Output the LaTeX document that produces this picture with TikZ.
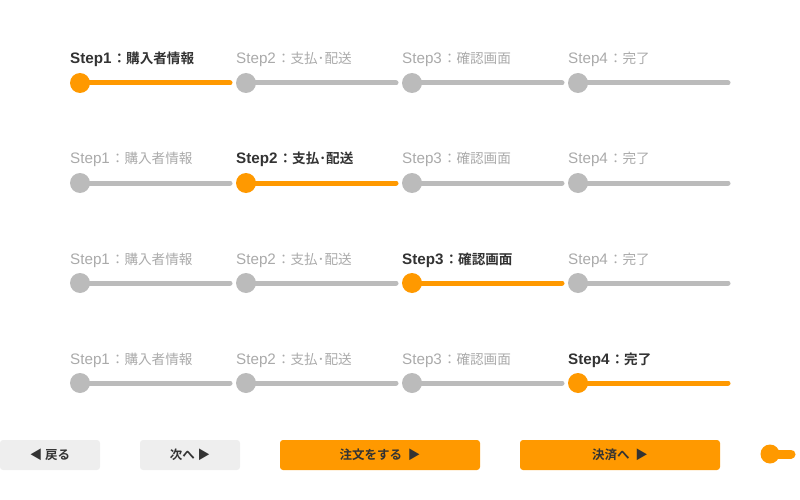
\documentclass[tikz,border=0pt]{standalone}
\usepackage{fontspec}
\setmainfont{Noto Sans CJK JP}[BoldFont={Noto Sans CJK JP Bold}]
\newfontfamily\lat{Liberation Sans}
\definecolor{org}{HTML}{FF9900}
\definecolor{lgray}{HTML}{BBBBBB}
\definecolor{tgray}{HTML}{AAAAAA}
\definecolor{dark}{HTML}{333333}
\definecolor{btngray}{HTML}{EEEEEE}
\newcommand{\steplbl}[2]{{\lat\fontsize{15.2pt}{16pt}\selectfont #1}\kern1pt{\fontsize{13.6pt}{16pt}\selectfont ：#2}}
\tikzset{
  seg/.style={line width=5pt, line cap=round},
  dot/.style={circle, minimum size=20pt, inner sep=0pt},
  lbl/.style={anchor=base west, inner sep=0pt},
  btn/.style={rounded corners=3pt, minimum height=30pt, inner sep=0pt, font=\fontsize{12.5pt}{14pt}\selectfont\bfseries, text=dark},
}
\begin{document}
\begin{tikzpicture}[x=1pt,y=-1pt]
\useasboundingbox (0,0) rectangle (800,500);
\foreach \r in {0,1,2,3}{
  \foreach \i/\a/\t in {0/Step1/購入者情報,1/Step2/支払･配送,2/Step3/確認画面,3/Step4/完了}{
    \pgfmathsetmacro{\xx}{80+166*\i}
    \pgfmathsetmacro{\yy}{83+100*\r}
    \coordinate (s\r\i) at (\xx,\yy);
    \coordinate (e\r\i) at (\xx+150,\yy);
    \ifnum\i=\r
      \draw[seg, org] (s\r\i) -- (e\r\i);
      \node[dot, fill=org] (d\r\i) at (s\r\i) {};
      \node[lbl, text=dark] (l\r\i) at (\xx-10,\yy-19) {\bfseries\steplbl{\a}{\t}};
    \else
      \draw[seg, lgray] (s\r\i) -- (e\r\i);
      \node[dot, fill=lgray] (d\r\i) at (s\r\i) {};
      \node[lbl, text=tgray] (l\r\i) at (\xx-10,\yy-19) {\steplbl{\a}{\t}};
    \fi
  }
}
\node[btn, fill=btngray, minimum width=100pt] (b1) at (50,455) {◀ 戻る};
\node[btn, fill=btngray, minimum width=100pt] (b2) at (190,455) {次へ ▶};
\node[btn, fill=org, minimum width=200pt] (b3) at (380,455) {注文をする\ \ ▶};
\node[btn, fill=org, minimum width=200pt] (b4) at (620,455) {決済へ\ \ ▶};
\coordinate (ks) at (770,454);
\coordinate (ke) at (791,454);
\draw[line width=9pt, line cap=round, org] (ks) -- (ke);
\node[dot, minimum size=19pt, fill=org] (kd) at (ks) {};
\end{tikzpicture}
\end{document}
